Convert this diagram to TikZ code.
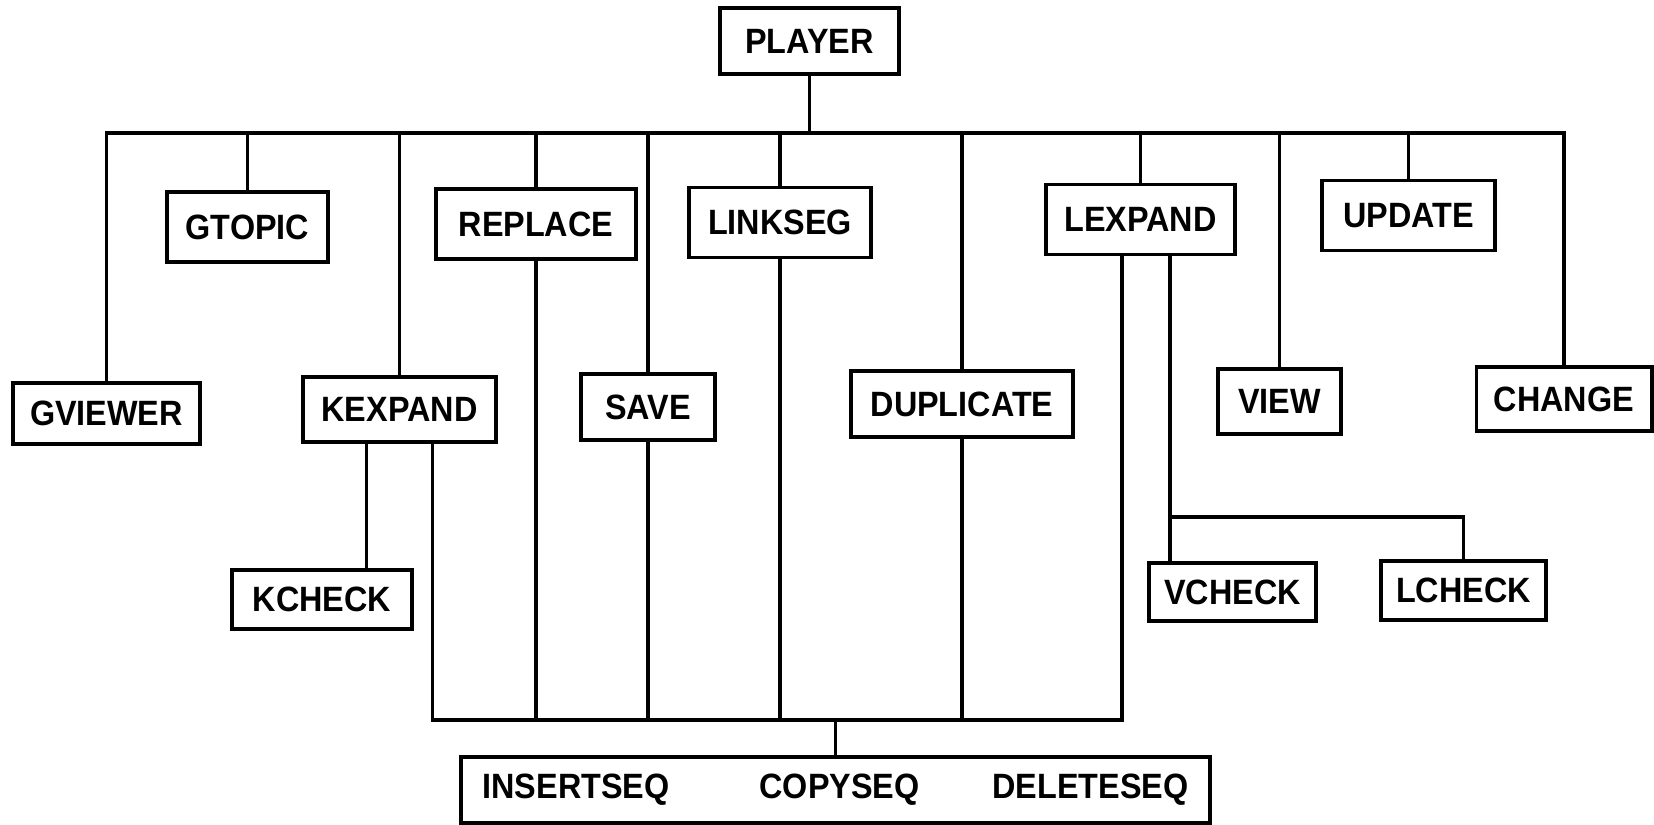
\documentclass[tikz,border=0pt]{standalone}
\usepackage{fontspec}
\setmainfont[FakeStretch=0.92]{Liberation Sans}
\usetikzlibrary{positioning,calc}
\tikzset{
  modbox/.style = {draw, line width=1.1pt, inner sep=2pt, align=center,
                   font=\fontsize{10}{12}\selectfont\bfseries, minimum height=0.66cm},
  topbox/.style = {modbox, minimum height=0.70cm},
  chkbox/.style = {modbox, minimum height=0.59cm},
  wire/.style   = {line width=0.95pt},
}
\begin{document}
\begin{tikzpicture}[x=0.01cm, y=-0.01cm]
  \useasboundingbox (0,0) rectangle (1654,825);

  % ---------- root and top row ---------------------------------------------
  \node[modbox, minimum width=1.79cm] (player)  at (809.5, 41)   {PLAYER};
  \node[topbox, minimum width=1.61cm] (gtopic)  at (247.5,227)   {GTOPIC};
  \node[topbox, minimum width=2.00cm] (replace) at (536,  224)   {REPLACE};
  \node[topbox, minimum width=1.82cm] (linkseg) at (780,  222.5) {LINKSEG};
  \node[topbox, minimum width=1.89cm] (lexpand) at (1140.5,219.5) {LEXPAND};
  \node[topbox, minimum width=1.73cm] (update)  at (1408.5,215.5) {UPDATE};

  % ---------- middle row ---------------------------------------------------
  \node[modbox, minimum width=1.87cm, minimum height=0.61cm] (gviewer) at (106.5,413.5) {GVIEWER};
  \node[modbox, minimum width=1.93cm, minimum height=0.65cm] (kexpand) at (399.5,409.5) {KEXPAND};
  \node[modbox, minimum width=1.34cm] (save)      at (648, 407) {SAVE};
  \node[modbox, minimum width=2.22cm] (duplicate) at (962, 404) {DUPLICATE};
  \node[modbox, minimum width=1.23cm, minimum height=0.65cm] (view)   at (1279.5,401.5) {VIEW};
  \node[modbox, minimum width=1.75cm, minimum height=0.64cm] (change) at (1564,399)     {CHANGE};

  % ---------- checks and sequence box --------------------------------------
  \node[chkbox, minimum width=1.80cm] (kcheck) at (322,   599.5) {KCHECK};
  \node[chkbox, minimum width=1.67cm, minimum height=0.58cm] (vcheck) at (1232.5,592) {VCHECK};
  \node[chkbox, minimum width=1.65cm] (lcheck) at (1463.5,590.5) {LCHECK};
  \node[modbox, minimum width=7.49cm] (seq) at (835.5,790)
       {INSERTSEQ\hspace{9mm}COPYSEQ\hspace{7.3mm}DELETESEQ};

  \coordinate (busR)   at (1564,133);
  \coordinate (seqbus) at (835,720);
  \coordinate (chkbus) at (1300,517);

  % ---------- main bus -----------------------------------------------------
  \draw[wire] (player.south) -- (player.south |- busR);
  \draw[wire] (gviewer.north) |- (busR) -| (change.north);
  \foreach \n in {gtopic,kexpand,replace,save,linkseg,duplicate,lexpand,view,update}
    \draw[wire] (\n.north) -- (\n.north |- busR);

  % ---------- sequence bus -------------------------------------------------
  \foreach \n in {replace,save,linkseg,duplicate}
    \draw[wire] (\n.south) -- (\n.south |- seqbus);
  \draw[wire] ([xshift=3.3mm]kexpand.south) |- (seqbus) -| ([xshift=-1.85mm]lexpand.south);
  \draw[wire] (seq.north) -- (seq.north |- seqbus);

  % ---------- checks -------------------------------------------------------
  \draw[wire] ([xshift=-3.3mm]kexpand.south) -- ([xshift=-3.3mm]kexpand.south |- kcheck.north);
  \draw[wire] ([xshift=2.95mm]lexpand.south) -- ([xshift=2.95mm]lexpand.south |- vcheck.north);
  \draw[wire] ([xshift=2.95mm]lexpand.south |- chkbus) -| (lcheck.north);

\end{tikzpicture}
\end{document}
